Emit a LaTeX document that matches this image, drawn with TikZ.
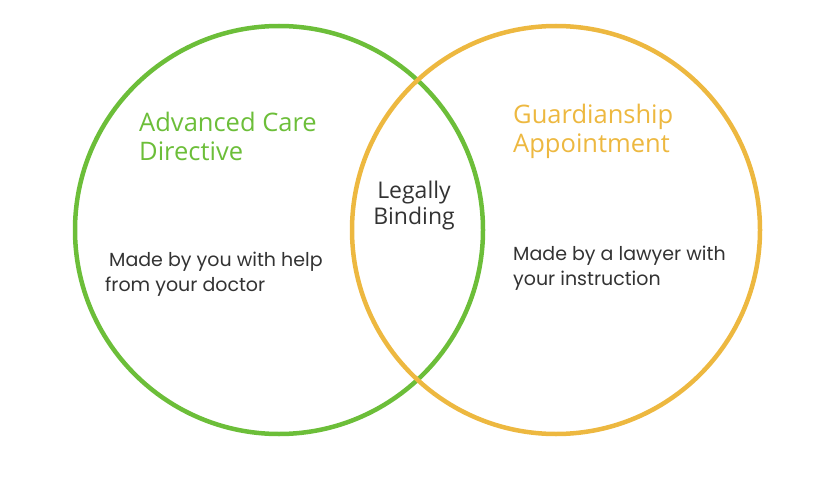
\documentclass[tikz,border=0pt]{standalone}
\usepackage{fontspec}
\setmainfont{Poppins}
\newfontfamily\headfont{Open Sans}
\definecolor{careGreen}{HTML}{6CBE39}
\definecolor{guardGold}{HTML}{EDB840}
\definecolor{textGrey}{HTML}{333333}

\tikzset{
  ring/.style={circle, line width=4.5pt, minimum size=408pt, inner sep=0pt},
  heading/.style={font=\headfont\fontsize{25.5}{29}\selectfont, align=left, anchor=north west, inner sep=0pt},
  bodytext/.style={font=\fontsize{19}{24.5}\selectfont, text=textGrey, align=left, anchor=north west, inner sep=0pt}
}

\begin{document}
\begin{tikzpicture}[x=1pt, y=-1pt]
      \useasboundingbox (0,0) rectangle (832,495);
      % the two sets
      \node[ring, draw=careGreen] (care) at (279,230) {};
      \node[ring, draw=guardGold] (guard) at (556,230) {};
      % set titles
      \node[heading, text=careGreen] (careTitle) at (139,112) {Advanced Care\\Directive};
      \node[heading, text=guardGold] (guardTitle) at (513,104) {Guardianship\\Appointment};
      % overlap
      \node[font=\headfont\fontsize{23}{26}\selectfont, text=textGrey, align=center, anchor=north, inner sep=0pt] (overlap) at (414,181) {Legally\\Binding};
      % descriptions
      \node[bodytext] (careText) at (105,252) {\hspace{4pt}Made by you with help\\from your doctor};
      \node[bodytext] (guardText) at (513,246) {Made by a lawyer with\\your instruction};
\end{tikzpicture}
\end{document}
